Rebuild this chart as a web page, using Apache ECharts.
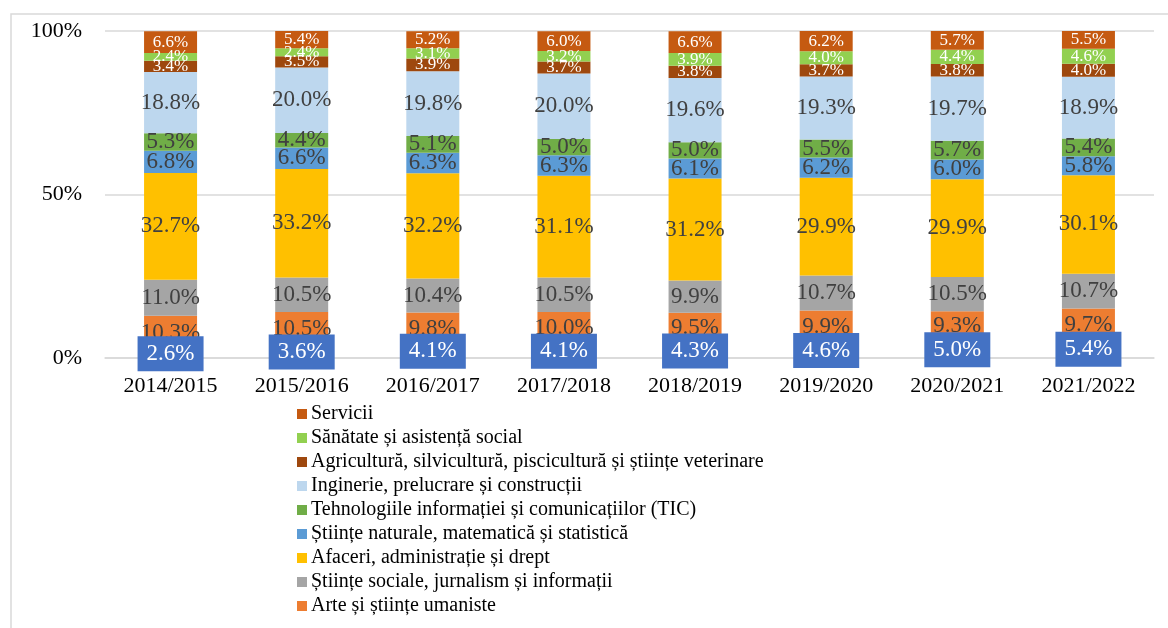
<!DOCTYPE html>
<html>
<head>
<meta charset="utf-8">
<script src="https://cdn.jsdelivr.net/npm/echarts@6/dist/echarts.min.js"></script>
<style>
  html, body { margin: 0; padding: 0; background: #fff; }
  #chart { width: 1168px; height: 628px; }
</style>
</head>
<body>
<div id="chart"></div>
<script>
const years = ['2014/2015', '2015/2016', '2016/2017', '2017/2018', '2018/2019', '2019/2020', '2020/2021', '2021/2022'];

// bottom to top, as stacked
const educatie = [2.6, 3.6, 4.1, 4.1, 4.3, 4.6, 5.0, 5.4];
const arte = [10.3, 10.5, 9.8, 10.0, 9.5, 9.9, 9.3, 9.7];
const stiinteSociale = [11.0, 10.5, 10.4, 10.5, 9.9, 10.7, 10.5, 10.7];
const afaceri = [32.7, 33.2, 32.2, 31.1, 31.2, 29.9, 29.9, 30.1];
const stiinteNaturale = [6.8, 6.6, 6.3, 6.3, 6.1, 6.2, 6.0, 5.8];
const tic = [5.3, 4.4, 5.1, 5.0, 5.0, 5.5, 5.7, 5.4];
const inginerie = [18.8, 20.0, 19.8, 20.0, 19.6, 19.3, 19.7, 18.9];
const agricultura = [3.4, 3.5, 3.9, 3.7, 3.8, 3.7, 3.8, 4.0];
const sanatate = [2.4, 2.4, 3.1, 3.2, 3.9, 4.0, 4.4, 4.6];
const servicii = [6.6, 5.4, 5.2, 6.0, 6.6, 6.2, 5.7, 5.5];

const yTicks = ['0%', '50%', '100%'];

const font = '"Liberation Serif", "Times New Roman", serif';

const chart = echarts.init(document.getElementById('chart'));

function seg(name, data, color, labelColor, labelSize) {
    return {
        name: name,
        type: 'bar',
        stack: 'total',
        data: data,
        barWidth: 53,
        itemStyle: { color: color },
        label: {
            show: true,
            position: 'inside',
            formatter: p => p.value.toFixed(1) + '%',
            color: labelColor,
            fontFamily: font,
            fontSize: labelSize
        }
    };
}

const series = [
    seg('Educație', educatie, '#4472C4', '#fff', 23),
    seg('Arte și științe umaniste', arte, '#ED7D31', '#404040', 23),
    seg('Științe sociale, jurnalism și informații', stiinteSociale, '#A5A5A5', '#404040', 23),
    seg('Afaceri, administrație și drept', afaceri, '#FFC000', '#404040', 23),
    seg('Științe naturale, matematică și statistică', stiinteNaturale, '#5B9BD5', '#404040', 23),
    seg('Tehnologiile informației și comunicațiilor (TIC)', tic, '#70AD47', '#404040', 23),
    seg('Inginerie, prelucrare și construcții', inginerie, '#BDD7EE', '#404040', 23),
    seg('Agricultură, silvicultură, piscicultură și științe veterinare', agricultura, '#9E480E', '#fff', 17),
    seg('Sănătate și asistență social', sanatate, '#92D050', '#fff', 17),
    seg('Servicii', servicii, '#C55A11', '#fff', 17)
];
// the bottom series shows its value in a filled box drawn over its neighbours
series[0].z = 5;
series[0].label.backgroundColor = '#4472C4';
series[0].label.width = 66;
series[0].label.height = 35;
series[0].label.align = 'center';
series[0].label.verticalAlign = 'middle';
series[0].label.lineHeight = 35;

chart.setOption({
    animation: false,
    textStyle: { fontFamily: font },
    graphic: [{
        type: 'rect',
        shape: { x: 11, y: 14, width: 1200, height: 700 },
        style: { fill: 'none', stroke: '#d9d9d9', lineWidth: 1.5 },
        silent: true
    }],
    grid: { left: 105, right: 14, top: 31, bottom: 270 },
    legend: {
        orient: 'vertical',
        left: 292,
        top: 399,
        icon: 'rect',
        itemWidth: 10,
        itemHeight: 10,
        itemGap: 4,
        data: series.slice(1).map(s => s.name).reverse(),
        textStyle: { fontFamily: font, fontSize: 20, color: '#000', lineHeight: 20, padding: [0, 0, 0, -1] }
    },
    xAxis: {
        type: 'category',
        data: years,
        axisLine: { lineStyle: { color: '#d9d9d9', width: 1.5 } },
        axisTick: { show: false },
        axisLabel: { color: '#000', fontSize: 22, fontFamily: font, margin: 17 }
    },
    yAxis: {
        type: 'value',
        min: 0,
        max: 100,
        interval: 50,
        axisLine: { show: false },
        axisTick: { show: false },
        splitLine: { lineStyle: { color: '#d9d9d9', width: 1.5 } },
        axisLabel: {
            color: '#000',
            fontSize: 22,
            fontFamily: font,
            margin: 23,
            formatter: v => yTicks[v / 50]
        }
    },
    series: series
});
</script>
</body>
</html>
